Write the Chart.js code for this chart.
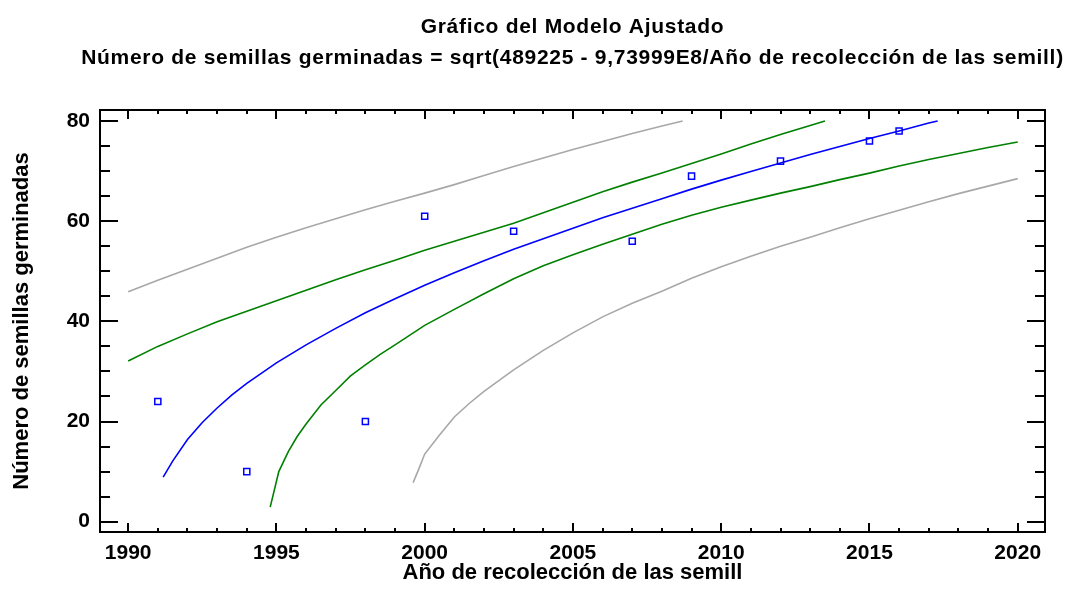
<!DOCTYPE html>
<html lang="es">
<head>
<meta charset="utf-8">
<title>Gráfico del Modelo Ajustado</title>
<script src="https://cdn.jsdelivr.net/npm/chart.js@4.4.1/dist/chart.umd.min.js"></script>
<style>
  html, body { margin: 0; padding: 0; background: #fff; }
  #chart { display: block; }
</style>
</head>
<body>
<canvas id="chart" width="1067" height="593"></canvas>
<script>
// Textos
var titleLines = [
    'Gráfico del Modelo Ajustado',
    'Número de semillas germinadas = sqrt(489225 - 9,73999E8/Año de recolección de las semill)'
];
var xTitle = 'Año de recolección de las semill';
var yTitle = 'Número de semillas germinadas';

// Ticks
var xTicks = [1990, 1995, 2000, 2005, 2010, 2015, 2020];
var yTicks = [0, 20, 40, 60, 80];

// Observaciones
var obsYears  = [1991, 1994, 1998, 2000, 2003, 2007, 2009, 2012, 2015, 2016];
var obsValues = [24, 10, 20, 61, 58, 56, 69, 72, 76, 78];

// Modelo ajustado
var fitYears  = [1991.18, 1991.5, 1992, 1992.5, 1993, 1993.5, 1994, 1995, 1996, 1997, 1998, 1999,
                 2000, 2001, 2002, 2003, 2004, 2005, 2006, 2007, 2008, 2009, 2010, 2011, 2012,
                 2013, 2014, 2015, 2016, 2017, 2017.3];
var fitValues = [8.9, 12.1, 16.4, 19.8, 22.7, 25.3, 27.6, 31.7, 35.3, 38.6, 41.7, 44.5,
                 47.2, 49.7, 52.1, 54.4, 56.5, 58.6, 60.7, 62.6, 64.5, 66.4, 68.2, 69.9, 71.6,
                 73.3, 74.9, 76.5, 78.0, 79.6, 80.0];

// Límites de confianza (verde)
var confUpYears  = [1990, 1991, 1992, 1993, 1994, 1995, 1996, 1997, 1998, 1999, 2000, 2001,
                    2002, 2003, 2004, 2005, 2006, 2007, 2008, 2009, 2010, 2011, 2012, 2013, 2013.5];
var confUpValues = [32.1, 35.0, 37.5, 39.9, 42.0, 44.1, 46.2, 48.3, 50.3, 52.2, 54.2, 56.0,
                    57.8, 59.6, 61.7, 63.8, 65.9, 67.8, 69.6, 71.5, 73.4, 75.4, 77.3, 79.1, 80.0];
var confLoYears  = [1994.79, 1995.08, 1995.4, 1995.7, 1996, 1996.5, 1997, 1997.5, 1998, 1998.5,
                    1999, 2000, 2001, 2002, 2003, 2004, 2005, 2006, 2007, 2008, 2009, 2010,
                    2011, 2012, 2013, 2014, 2015, 2016, 2017, 2018, 2019, 2020];
var confLoValues = [2.9, 10.0, 14.0, 17.0, 19.5, 23.3, 26.2, 29.1, 31.3, 33.4,
                    35.3, 39.2, 42.4, 45.5, 48.5, 51.1, 53.3, 55.4, 57.4, 59.4, 61.2, 62.8,
                    64.2, 65.6, 66.9, 68.3, 69.6, 71.0, 72.3, 73.5, 74.7, 75.8];

// Límites de predicción (gris)
var predUpYears  = [1990, 1991, 1992, 1993, 1994, 1995, 1996, 1997, 1998, 1999, 2000, 2001,
                    2002, 2003, 2004, 2005, 2006, 2007, 2008, 2008.7];
var predUpValues = [45.9, 48.2, 50.4, 52.6, 54.8, 56.8, 58.7, 60.5, 62.3, 64.0, 65.6, 67.3,
                    69.1, 70.9, 72.6, 74.3, 75.9, 77.5, 79.0, 80.0];
var predLoYears  = [1999.61, 1999.8, 2000, 2000.5, 2001, 2001.5, 2002, 2003, 2004, 2005, 2006,
                    2007, 2008, 2009, 2010, 2011, 2012, 2013, 2014, 2015, 2016, 2017, 2018,
                    2019, 2020];
var predLoValues = [7.8, 10.5, 13.5, 17.3, 20.9, 23.6, 26.0, 30.3, 34.2, 37.7, 40.9,
                    43.6, 46.0, 48.6, 50.9, 53.0, 55.0, 56.8, 58.7, 60.5, 62.2, 63.9, 65.5,
                    67.0, 68.5];

var FONT = '"Liberation Sans", Arial, Helvetica, sans-serif';

function pts(xs, ys) {
    return xs.map(function (x, i) { return { x: x, y: ys[i] }; });
}

function lineSet(xs, ys, color) {
    return {
        data: pts(xs, ys),
        showLine: true,
        borderColor: color,
        borderWidth: 1.6,
        pointRadius: 0,
        tension: 0,
        fill: false
    };
}

// Título de dos líneas centrado sobre el área del gráfico
var titlePlugin = {
    id: 'statTitle',
    afterDraw: function (chart) {
        var ctx = chart.ctx, a = chart.chartArea;
        var cx = (a.left + a.right) / 2;
        ctx.save();
        ctx.fillStyle = '#000';
        ctx.textAlign = 'center';
        ctx.textBaseline = 'alphabetic';
        ctx.font = 'bold 21px ' + FONT;
        ctx.letterSpacing = '0.7px';
        ctx.fillText(titleLines[0], cx, 33);
        ctx.fillText(titleLines[1], cx, 64);
        ctx.restore();
    }
};

// Marco y marcas hacia dentro en los cuatro lados
var framePlugin = {
    id: 'frameTicks',
    afterDatasetsDraw: function (chart) {
        var ctx = chart.ctx, a = chart.chartArea;
        var sx = chart.scales.x, sy = chart.scales.y;
        ctx.save();
        ctx.strokeStyle = '#000';
        ctx.lineWidth = 2;
        ctx.beginPath();
        for (var yr = 1990; yr <= 2020; yr++) {
            var px = Math.round(sx.getPixelForValue(yr));
            var len = (yr % 5 === 0) ? 9 : 4;
            ctx.moveTo(px, a.bottom); ctx.lineTo(px, a.bottom - len);
            ctx.moveTo(px, a.top);    ctx.lineTo(px, a.top + len);
        }
        for (var v = 0; v <= 80; v += 5) {
            var py = Math.round(sy.getPixelForValue(v));
            var l = (v % 20 === 0) ? 18 : 10;
            ctx.moveTo(a.left, py);  ctx.lineTo(a.left + l, py);
            ctx.moveTo(a.right, py); ctx.lineTo(a.right - l, py);
        }
        ctx.stroke();
        ctx.strokeRect(a.left, a.top, a.right - a.left, a.bottom - a.top);
        ctx.restore();
    }
};

new Chart(document.getElementById('chart'), {
    type: 'scatter',
    data: {
        datasets: [
            {
                data: pts(obsYears, obsValues),
                pointStyle: 'rect',
                pointRadius: 4.3,
                pointBorderColor: '#0000ff',
                pointBackgroundColor: 'rgba(255,255,255,0)',
                pointBorderWidth: 1.5,
                showLine: false
            },
            lineSet(fitYears, fitValues, '#0000ff'),
            lineSet(confUpYears, confUpValues, '#008000'),
            lineSet(confLoYears, confLoValues, '#008000'),
            lineSet(predUpYears, predUpValues, '#a8a8a8'),
            lineSet(predLoYears, predLoValues, '#a8a8a8')
        ]
    },
    options: {
        responsive: false,
        animation: false,
        layout: { padding: { top: 110, right: 22, left: 0, bottom: 0 } },
        plugins: {
            legend: { display: false },
            tooltip: { enabled: false },
            title: { display: false }
        },
        scales: {
            x: {
                type: 'linear',
                min: 1989.05,
                max: 2020.92,
                afterBuildTicks: function (s) {
                    s.ticks = xTicks.map(function (v) { return { value: v }; });
                },
                afterFit: function (s) { s.height = 61; },
                grid: { display: false },
                border: { display: false },
                ticks: {
                    color: '#000',
                    padding: 1,
                    maxRotation: 0,
                    autoSkip: false,
                    font: { family: FONT, size: 21, weight: 'bold' },
                    callback: function (v) { return String(v); }
                },
                title: {
                    display: true,
                    text: xTitle,
                    color: '#000',
                    font: { family: FONT, size: 22, weight: 'bold' },
                    padding: { top: 0, bottom: 7 }
                }
            },
            y: {
                type: 'linear',
                min: -2.06,
                max: 82.2,
                afterBuildTicks: function (s) {
                    s.ticks = yTicks.map(function (v) { return { value: v }; });
                },
                afterFit: function (s) { s.width = 100; },
                grid: { display: false },
                border: { display: false },
                ticks: {
                    color: '#000',
                    padding: 2,
                    autoSkip: false,
                    font: { family: FONT, size: 21, weight: 'bold' },
                    callback: function (v) { return String(v); }
                },
                title: {
                    display: true,
                    text: yTitle,
                    color: '#000',
                    font: { family: FONT, size: 22, weight: 'bold' },
                    padding: { top: 9, bottom: 0 }
                }
            }
        }
    },
    plugins: [framePlugin, titlePlugin]
});
</script>
</body>
</html>
